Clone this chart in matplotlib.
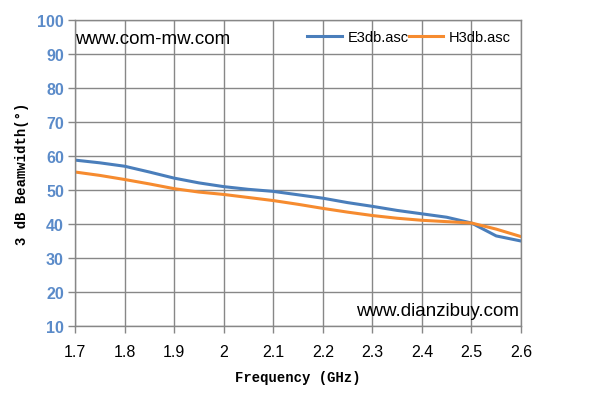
import numpy as np
import matplotlib.pyplot as plt

# frequency (GHz) and 3 dB beamwidth (deg)
freq = [1.7, 1.75, 1.8, 1.85, 1.9, 1.95, 2.0, 2.05, 2.1, 2.15, 2.2, 2.25,
        2.3, 2.35, 2.4, 2.45, 2.5, 2.55, 2.6]
e3db = [58.8, 58.0, 57.0, 55.3, 53.5, 52.1, 51.0, 50.2, 49.6, 48.6, 47.6, 46.3,
        45.2, 44.0, 43.0, 42.0, 40.3, 36.5, 35.0]
h3db = [55.3, 54.3, 53.1, 51.8, 50.4, 49.4, 48.7, 47.8, 46.9, 45.8, 44.6, 43.5,
        42.5, 41.7, 41.1, 40.7, 40.3, 38.5, 36.3]
xticks = [1.7, 1.8, 1.9, 2.0, 2.1, 2.2, 2.3, 2.4, 2.5, 2.6]
xticklabels = ["1.7", "1.8", "1.9", "2", "2.1", "2.2", "2.3", "2.4", "2.5", "2.6"]
yticks = [10, 20, 30, 40, 50, 60, 70, 80, 90, 100]

fig = plt.figure(figsize=(5.94, 4.10), dpi=100)
ax = fig.add_axes([0.1263, 0.2024, 0.7508, 0.7463])

grid_c = "#878787"
ax.plot(freq, e3db, color="#4A7EBB", lw=2.2, label="E3db.asc")
ax.plot(freq, h3db, color="#F68B2F", lw=2.2, label="H3db.asc")

ax.set_xlim(1.7, 2.6)
ax.set_ylim(10, 100)
ax.set_xticks(xticks)
ax.set_xticklabels(xticklabels)
ax.set_yticks(yticks)
ax.grid(True, color=grid_c, lw=1)
ax.set_axisbelow(True)
for s in ax.spines.values():
    s.set_color(grid_c)
    s.set_linewidth(1)
ax.tick_params(axis="both", color=grid_c, length=5, width=1)
ax.tick_params(axis="x", labelsize=11.5, pad=8, labelcolor="black")
ax.tick_params(axis="y", labelsize=11.5, pad=3, labelcolor="#5B8BC9")
for t in ax.get_yticklabels():
    t.set_fontweight("bold")
    t.set_family("Liberation Sans")
for t in ax.get_xticklabels():
    t.set_family("Liberation Sans")

ax.set_xlabel("Frequency (GHz)", family="Liberation Mono", fontweight="bold",
              fontsize=10, labelpad=8)
ax.set_ylabel("3 dB Beamwidth(°)", family="Liberation Mono", fontweight="bold",
              fontsize=10, labelpad=6)

ax.legend(loc="upper right", ncol=2, frameon=False,
          handlelength=2.35, columnspacing=0.0, handletextpad=0.4,
          borderaxespad=0.3, prop={"family": "Liberation Sans", "size": 10.5})

ax.text(0.0, 0.94, "www.com-mw.com", transform=ax.transAxes, fontsize=13.5,
        family="Liberation Sans", va="center", ha="left")
ax.text(0.996, 0.05, "www.dianzibuy.com", transform=ax.transAxes, fontsize=13.5,
        family="Liberation Sans", va="center", ha="right")

fig.savefig("out.png", dpi=100)
